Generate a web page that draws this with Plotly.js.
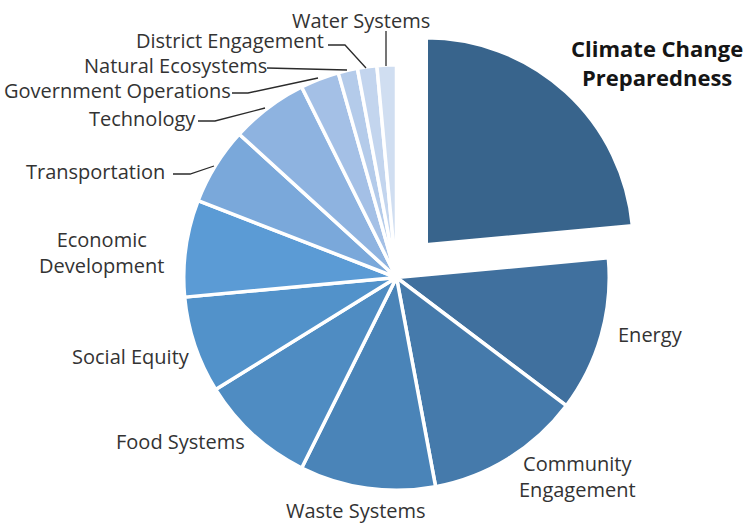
<!DOCTYPE html>
<html>
<head>
<meta charset="utf-8">
<script src="https://cdn.plot.ly/plotly-3.0.1.min.js"></script>
<style>
  html, body { margin: 0; padding: 0; background: #ffffff; overflow: hidden; }
  #chart { width: 748px; height: 523px; }
</style>
</head>
<body>
<div id="chart"></div>
<script>
// ---- Data ----
const categories = [
  "Climate Change Preparedness", "Energy", "Community Engagement", "Waste Systems",
  "Food Systems", "Social Equity", "Economic Development", "Transportation",
  "Technology", "Government Operations", "Natural Ecosystems",
  "District Engagement", "Water Systems"
];
const values = [16, 8, 8, 7, 6, 5, 5, 4, 4, 2, 1, 1, 1];
const sliceColors = [
  "#38648c", "#40709e", "#457aab", "#4a84b8", "#4f8cc2", "#5292ca", "#5b9bd5",
  "#7aa8da", "#8eb3e0", "#a4c0e6", "#b4cbea", "#c3d5ee", "#d0def1"
];
// label text shown on the chart (one entry per category)
const labelText = [
  "Climate Change<br>Preparedness", "Energy", "Community<br>Engagement",
  "Waste Systems", "Food Systems", "Social Equity", "Economic<br>Development",
  "Transportation", "Technology", "Government Operations", "Natural Ecosystems",
  "District Engagement", "Water Systems"
];

// ---- Layout helpers (pixel -> paper) ----
const W = 748, H = 523;
const px = x => x / W;
const py = y => 1 - y / H;
function domainFor(cx, cy, r) {
  return { x: [px(cx - r), px(cx + r)], y: [py(cy + r), py(cy - r)] };
}

const TRANSPARENT = "rgba(0,0,0,0)";
const mainColors = sliceColors.map((c, i) => i === 0 ? TRANSPARENT : c);
const featColors = sliceColors.map((c, i) => i === 0 ? c : TRANSPARENT);
const featLineW = values.map((v, i) => i === 0 ? 3.5 : 0);

const common = {
  type: "pie",
  labels: categories,
  values: values,
  sort: false,
  direction: "clockwise",
  rotation: 0,
  textinfo: "none",
  hoverinfo: "label+value+percent",
  showlegend: false
};

const traceMain = Object.assign({}, common, {
  marker: { colors: mainColors, line: { color: "#ffffff", width: 3.5 } },
  domain: domainFor(396.5, 277.5, 212.75)
});
// featured (exploded) slice drawn from the same values in its own domain
const traceFeat = Object.assign({}, common, {
  marker: { colors: featColors, line: { color: "#ffffff", width: featLineW } },
  domain: domainFor(426.25, 244.75, 207)
});

// label placement (pixel centre of each label block)
const labelPos = [
  [657, 62.5], [650, 334], [577, 476], [356, 510], [180, 441], [131, 356],
  [102, 252.5], [95, 171.5], [142, 118.5], [117.5, 90], [175.5, 65],
  [230, 40.5], [361, 20.5]
];

const annotations = labelText.map((t, i) => ({
  xref: "paper", yref: "paper",
  x: px(labelPos[i][0]), y: py(labelPos[i][1]),
  xanchor: "center", yanchor: "middle", align: "center",
  text: i === 0 ? "<b>" + t.replace("<br>", "</b><br><b>") + "</b>" : t,
  showarrow: false,
  font: i === 0
    ? { family: "Open Sans, sans-serif", size: 22, color: "#151515" }
    : { family: "Open Sans, sans-serif", size: 20, color: "#333333" }
}));

// leader lines for the small slices (pixel polylines)
const leaders = [
  [[386, 31], [386, 66]],
  [[328, 45], [345, 45], [366, 68]],
  [[267, 68], [347, 70]],
  [[232, 93], [248, 93], [318, 78]],
  [[198, 121], [215, 121], [265, 108]],
  [[173, 174], [190, 174], [214, 166]]
];
const shapes = leaders.map(pts => ({
  type: "path",
  xref: "paper", yref: "paper",
  path: pts.map((p, k) => (k === 0 ? "M" : "L") + px(p[0]) + "," + py(p[1])).join(" "),
  line: { color: "#2b2b2b", width: 1.3 }
}));

const layout = {
  width: W, height: H,
  margin: { l: 0, r: 0, t: 0, b: 0 },
  paper_bgcolor: "#ffffff",
  plot_bgcolor: "#ffffff",
  showlegend: false,
  annotations: annotations,
  shapes: shapes
};

Plotly.newPlot("chart", [traceMain, traceFeat], layout, { displayModeBar: false, staticPlot: true });
</script>
</body>
</html>
